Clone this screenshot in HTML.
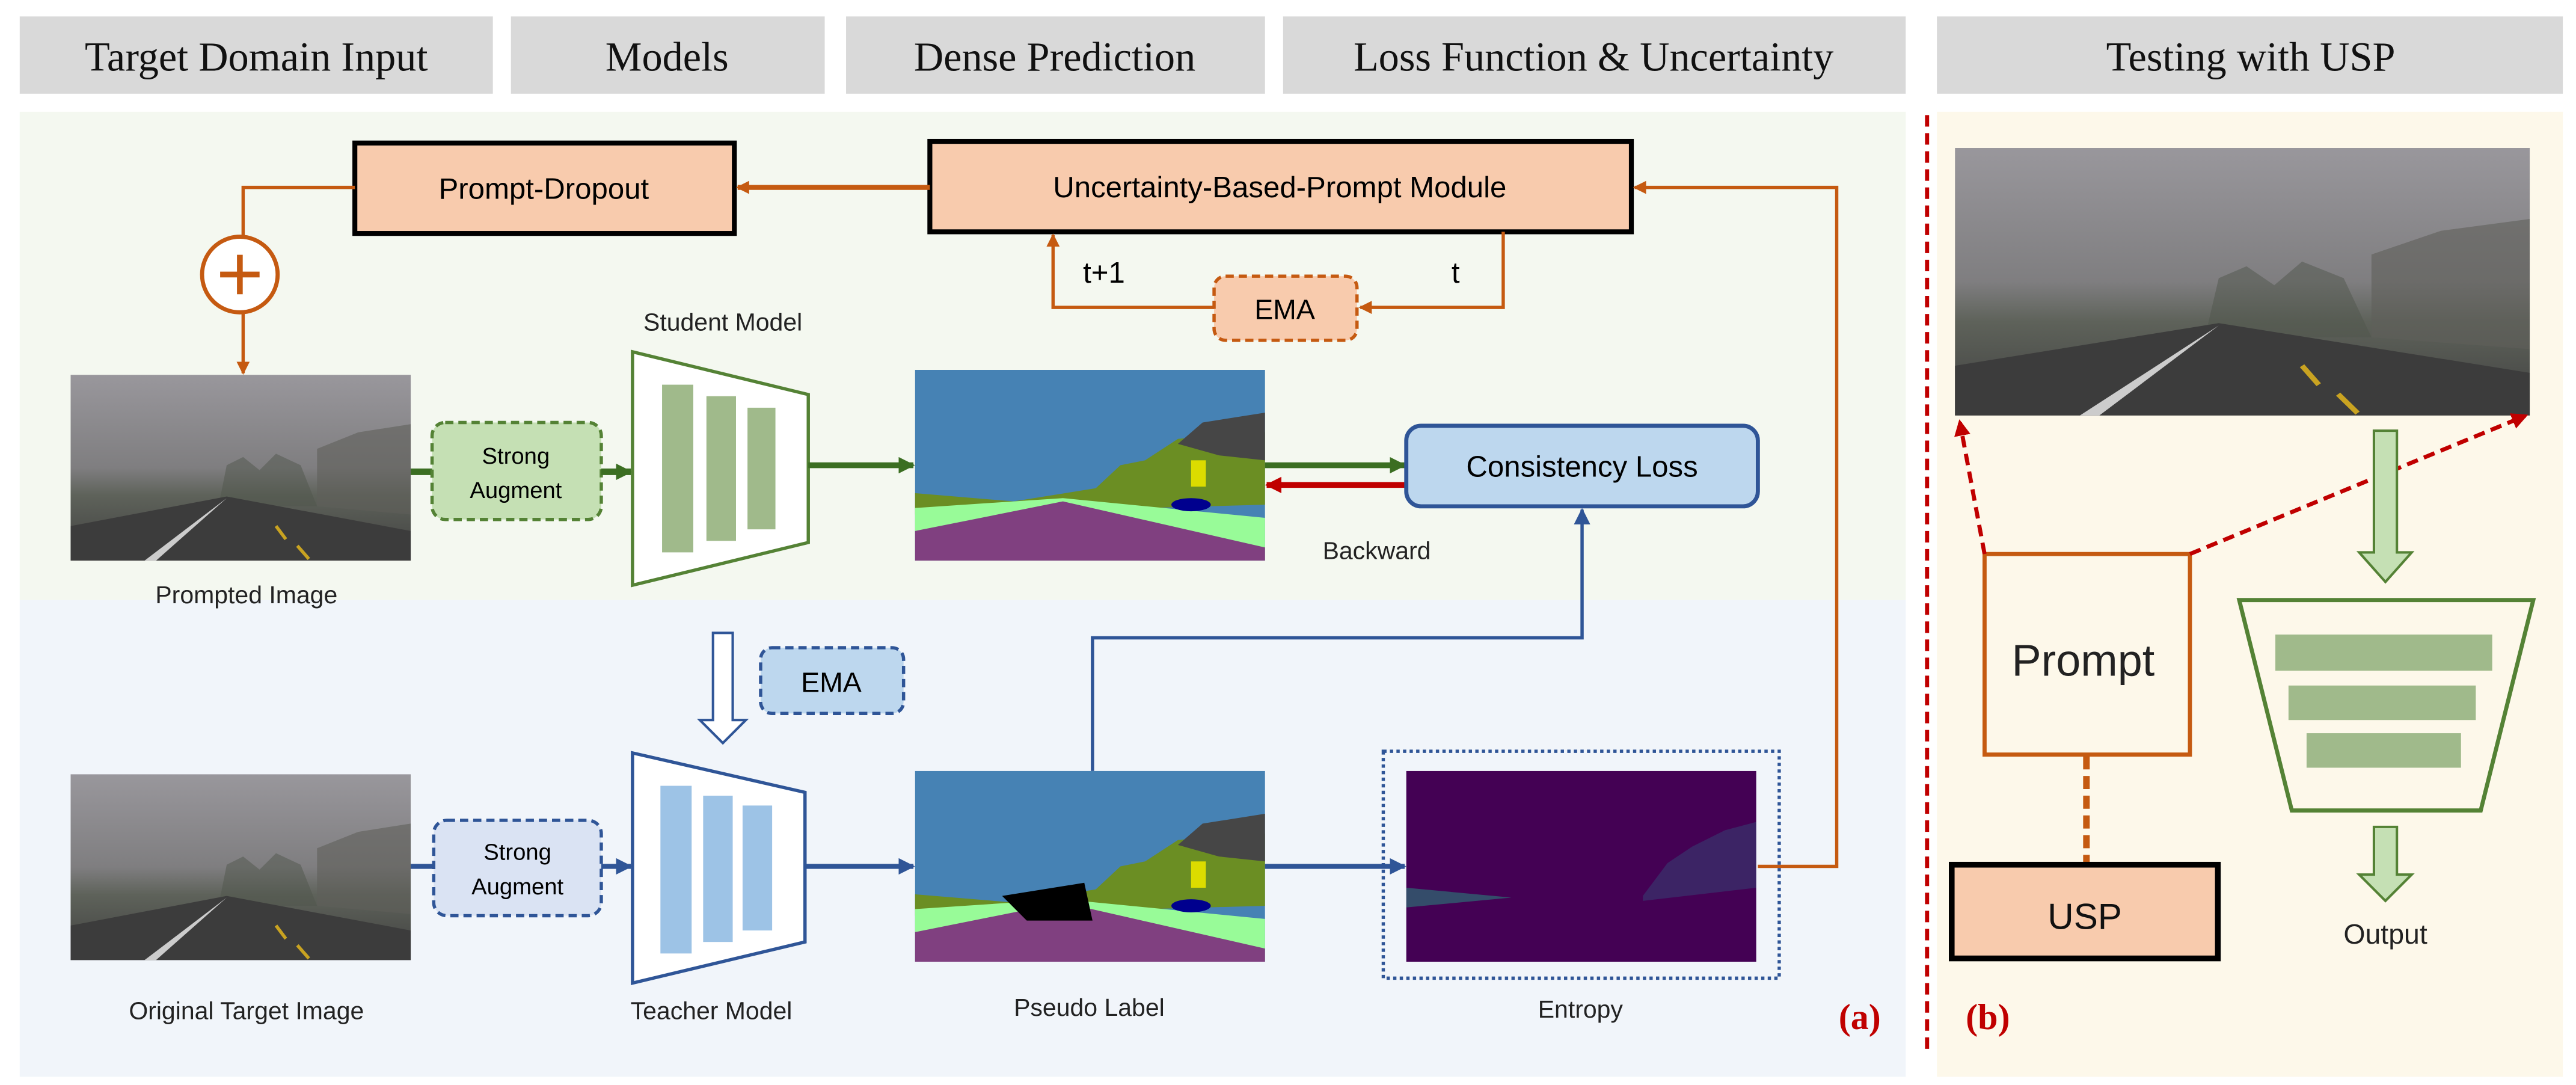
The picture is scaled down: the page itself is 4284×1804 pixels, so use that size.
<!DOCTYPE html>
<html><head><meta charset="utf-8"><style>html,body{margin:0;padding:0;background:#fff}svg{display:block}</style></head>
<body>
<svg width="4284" height="1804" viewBox="0 0 1568 660" preserveAspectRatio="none" xmlns="http://www.w3.org/2000/svg" font-family="Liberation Sans, DejaVu Sans, sans-serif">
<defs>
<marker id="ao" markerWidth="8" markerHeight="8" refX="7" refY="4" orient="auto" markerUnits="userSpaceOnUse"><path d="M0,0 L8,4 L0,8 Z" fill="#c55a11"/></marker>
<marker id="ag" markerWidth="10" markerHeight="10" refX="9" refY="5" orient="auto" markerUnits="userSpaceOnUse"><path d="M0,0 L10,5 L0,10 Z" fill="#3b6e22"/></marker>
<marker id="ar" markerWidth="10" markerHeight="10" refX="9" refY="5" orient="auto" markerUnits="userSpaceOnUse"><path d="M0,0 L10,5 L0,10 Z" fill="#c00000"/></marker>
<marker id="ab" markerWidth="10" markerHeight="10" refX="9" refY="5" orient="auto" markerUnits="userSpaceOnUse"><path d="M0,0 L10,5 L0,10 Z" fill="#2f5597"/></marker>
<marker id="ad" markerWidth="10" markerHeight="10" refX="8" refY="5" orient="auto" markerUnits="userSpaceOnUse"><path d="M0,0 L10,5 L0,10 Z" fill="#c00000"/></marker>
<linearGradient id="fog" x1="0" y1="0" x2="0" y2="1"><stop offset="0" stop-color="#99979c"/><stop offset="0.5" stop-color="#7f7e80"/><stop offset="0.65" stop-color="#5e625a"/><stop offset="1" stop-color="#404040"/></linearGradient>
<g id="road">
<rect width="207" height="113" fill="url(#fog)"/>
<path d="M150,80 L150,45 L175,35 L207,30 L207,85 Z" fill="#5f5f5a" opacity="0.6"/>
<path d="M90,80 L95,55 L105,50 L115,58 L125,48 L140,55 L150,80 Z" fill="#4f554c" opacity="0.5"/>
<path d="M0,113 L0,92 L95,74 L207,95 L207,113 Z" fill="#3c3c3c"/>
<path d="M45,113 L95,75 L52,113 Z" fill="#ccc"/>
<path d="M125,92 L131,100 M138,104 L145,112" stroke="#c9a321" stroke-width="2"/>
</g>
<g id="seg">
<rect width="213" height="116" fill="#4682b4"/>
<path d="M0,75 L60,80 L110,72 L125,58 L140,55 L160,42 L180,40 L213,38 L213,82 L0,88 Z" fill="#6b8e23"/>
<path d="M160,45 L175,32 L213,26 L213,55 L185,52 Z" fill="#464646"/>
<path d="M0,84 L90,78 L213,90 L213,116 L0,116 Z" fill="#98fb98"/>
<path d="M0,98 L90,80 L213,108 L213,116 L0,116 Z" fill="#804080"/>
<rect x="168" y="55" width="9" height="16" fill="#dcdc00"/>
<ellipse cx="168" cy="82" rx="12" ry="4" fill="#00008e"/>
</g>
</defs>

<g fill="#d9d9d9">
<rect x="12" y="10" width="288" height="47"/><rect x="311" y="10" width="191" height="47"/><rect x="515" y="10" width="255" height="47"/><rect x="781" y="10" width="379" height="47"/><rect x="1179" y="10" width="381" height="47"/>
</g>
<g font-family="Liberation Serif, serif" font-size="25" text-anchor="middle" fill="#111">
<text x="156" y="43">Target Domain Input</text><text x="406" y="43">Models</text><text x="642" y="43">Dense Prediction</text><text x="970" y="43">Loss Function &amp; Uncertainty</text><text x="1370" y="43">Testing with USP</text>
</g>

<rect x="12" y="68" width="1148" height="297" fill="#f4f8f0"/>
<rect x="12" y="365" width="1148" height="290" fill="#f1f5fa"/>
<rect x="1179" y="68" width="381" height="587" fill="#fdf8ea"/>
<line x1="1173" y1="70" x2="1173" y2="640" stroke="#c00000" stroke-width="2.5" stroke-dasharray="7,4"/>

<rect x="216" y="87" width="231" height="55" fill="#f8cbad" stroke="#000" stroke-width="3"/>
<text x="331" y="121" font-size="18" text-anchor="middle">Prompt-Dropout</text>
<rect x="566" y="86" width="427" height="55" fill="#f8cbad" stroke="#000" stroke-width="3"/>
<text x="779" y="120" font-size="18" text-anchor="middle">Uncertainty-Based-Prompt Module</text>
<line x1="566" y1="114" x2="449" y2="114" stroke="#c55a11" stroke-width="3" marker-end="url(#ao)"/>
<polyline points="216,114 148,114 148,143" fill="none" stroke="#c55a11" stroke-width="2"/>
<circle cx="146" cy="167" r="23" fill="#fff" stroke="#c55a11" stroke-width="2.5"/>
<path d="M134,167 H158 M146,155 V179" stroke="#c55a11" stroke-width="3.5"/>
<line x1="148" y1="190" x2="148" y2="227" stroke="#c55a11" stroke-width="2" marker-end="url(#ao)"/>
<rect x="739" y="168" width="87" height="39" rx="7" fill="#f8cbad" stroke="#c55a11" stroke-width="2" stroke-dasharray="5,3"/>
<text x="782" y="194" font-size="17" text-anchor="middle">EMA</text>
<polyline points="915,141 915,187 828,187" fill="none" stroke="#c55a11" stroke-width="2" marker-end="url(#ao)"/>
<polyline points="739,187 641,187 641,143" fill="none" stroke="#c55a11" stroke-width="2" marker-end="url(#ao)"/>
<text x="672" y="172" font-size="18" text-anchor="middle">t+1</text>
<text x="886" y="172" font-size="18" text-anchor="middle">t</text>
<polyline points="1070,527 1118,527 1118,114 995,114" fill="none" stroke="#c55a11" stroke-width="2" marker-end="url(#ao)"/>

<use href="#road" x="43" y="228"/>
<text x="150" y="367" font-size="15" text-anchor="middle" fill="#222">Prompted Image</text>
<line x1="250" y1="287" x2="263" y2="287" stroke="#3b6e22" stroke-width="4"/>
<rect x="263" y="257" width="103" height="59" rx="8" fill="#c5e0b4" stroke="#548235" stroke-width="2" stroke-dasharray="5,3"/>
<text x="314" y="282" font-size="14" text-anchor="middle">Strong</text><text x="314" y="303" font-size="14" text-anchor="middle">Augment</text>
<line x1="366" y1="287" x2="384" y2="287" stroke="#3b6e22" stroke-width="4" marker-end="url(#ag)"/>
<text x="440" y="201" font-size="15" text-anchor="middle" fill="#222">Student Model</text>
<path d="M385,214 L492,240 L492,330 L385,356 Z" fill="#fff" stroke="#548235" stroke-width="2"/>
<rect x="403" y="234" width="19" height="102" fill="#a0ba8b"/><rect x="430" y="241" width="18" height="88" fill="#a0ba8b"/><rect x="455" y="248" width="17" height="74" fill="#a0ba8b"/>
<line x1="492" y1="283" x2="556" y2="283" stroke="#3b6e22" stroke-width="3.5" marker-end="url(#ag)"/>
<use href="#seg" x="557" y="225"/>
<line x1="770" y1="283" x2="855" y2="283" stroke="#3b6e22" stroke-width="3.5" marker-end="url(#ag)"/>
<line x1="856" y1="295" x2="771" y2="295" stroke="#c00000" stroke-width="3.5" marker-end="url(#ar)"/>
<rect x="856" y="259" width="214" height="49" rx="9" fill="#bdd7ee" stroke="#2f5597" stroke-width="2.5"/>
<text x="963" y="290" font-size="18" text-anchor="middle">Consistency Loss</text>
<text x="838" y="340" font-size="15" text-anchor="middle" fill="#222">Backward</text>

<path d="M434,385 H446 V438 H454 L440,452 L426,438 H434 Z" fill="#fff" stroke="#2f5597" stroke-width="1.5"/>
<rect x="463" y="394" width="87" height="40" rx="7" fill="#bdd7ee" stroke="#2f5597" stroke-width="2" stroke-dasharray="5,3"/>
<text x="506" y="421" font-size="17" text-anchor="middle">EMA</text>
<use href="#road" x="43" y="471"/>
<text x="150" y="620" font-size="15" text-anchor="middle" fill="#222">Original Target Image</text>
<line x1="250" y1="527" x2="264" y2="527" stroke="#2f5597" stroke-width="3"/>
<rect x="264" y="499" width="102" height="58" rx="8" fill="#dae3f3" stroke="#2f5597" stroke-width="2" stroke-dasharray="5,3"/>
<text x="315" y="523" font-size="14" text-anchor="middle">Strong</text><text x="315" y="544" font-size="14" text-anchor="middle">Augment</text>
<line x1="366" y1="527" x2="384" y2="527" stroke="#2f5597" stroke-width="3" marker-end="url(#ab)"/>
<path d="M385,458 L490,482 L490,573 L385,598 Z" fill="#fff" stroke="#2f5597" stroke-width="2"/>
<rect x="402" y="478" width="19" height="102" fill="#9dc3e6"/><rect x="428" y="484" width="18" height="89" fill="#9dc3e6"/><rect x="452" y="490" width="18" height="76" fill="#9dc3e6"/>
<text x="433" y="620" font-size="15" text-anchor="middle" fill="#222">Teacher Model</text>
<line x1="490" y1="527" x2="556" y2="527" stroke="#2f5597" stroke-width="3" marker-end="url(#ab)"/>
<use href="#seg" x="557" y="469"/>
<path d="M610,545 L660,537 L665,560 L625,560 Z" fill="#000"/>
<text x="663" y="618" font-size="15" text-anchor="middle" fill="#222">Pseudo Label</text>
<polyline points="665,469 665,388 963,388 963,310" fill="none" stroke="#2f5597" stroke-width="2" marker-end="url(#ab)"/>
<line x1="770" y1="527" x2="855" y2="527" stroke="#2f5597" stroke-width="3" marker-end="url(#ab)"/>
<rect x="842" y="457" width="241" height="138" fill="none" stroke="#2f5597" stroke-width="2" stroke-dasharray="2,2"/>
<rect x="856" y="469" width="213" height="116" fill="#440154"/>
<path d="M1000,545 L1015,525 L1030,515 L1050,505 L1069,500 L1069,540 L1000,548 Z" fill="#2a788e" opacity="0.3"/>
<path d="M856,540 L920,546 L856,552 Z" fill="#22a884" opacity="0.45"/>
<text x="962" y="619" font-size="15" text-anchor="middle" fill="#222">Entropy</text>
<text x="1132" y="626" font-family="Liberation Serif, serif" font-size="22" font-weight="bold" fill="#c00000" text-anchor="middle">(a)</text>

<use href="#road" transform="translate(1190,90) scale(1.69,1.44)"/>
<rect x="1208" y="337" width="125" height="122" fill="#fdf8ea" stroke="#c55a11" stroke-width="2.5"/>
<text x="1268" y="411" font-size="27" text-anchor="middle" fill="#222">Prompt</text>
<line x1="1208" y1="337" x2="1193" y2="257" stroke="#c00000" stroke-width="2.5" stroke-dasharray="7,4" marker-end="url(#ad)"/>
<line x1="1333" y1="337" x2="1537" y2="253" stroke="#c00000" stroke-width="2.5" stroke-dasharray="7,4" marker-end="url(#ad)"/>
<line x1="1270" y1="460" x2="1270" y2="526" stroke="#c55a11" stroke-width="4" stroke-dasharray="8,4"/>
<rect x="1188" y="526" width="162" height="57" fill="#f8cbad" stroke="#000" stroke-width="3.5"/>
<text x="1269" y="565" font-size="22" text-anchor="middle" fill="#111">USP</text>
<path d="M1445,262 H1459 V336 H1468 L1452,354 L1436,336 H1445 Z" fill="#c5e0b4" stroke="#548235" stroke-width="1.5"/>
<path d="M1363,365 L1542,365 L1510,493 L1395,493 Z" fill="none" stroke="#548235" stroke-width="2.5"/>
<rect x="1385" y="386" width="132" height="22" fill="#a0ba8b"/><rect x="1393" y="417" width="114" height="21" fill="#a0ba8b"/><rect x="1404" y="446" width="94" height="21" fill="#a0ba8b"/>
<path d="M1445,503 H1459 V532 H1468 L1452,548 L1436,532 H1445 Z" fill="#c5e0b4" stroke="#548235" stroke-width="1.5"/>
<text x="1452" y="574" font-size="17" text-anchor="middle" fill="#222">Output</text>
<text x="1210" y="626" font-family="Liberation Serif, serif" font-size="22" font-weight="bold" fill="#c00000" text-anchor="middle">(b)</text>
</svg>
</body></html>
